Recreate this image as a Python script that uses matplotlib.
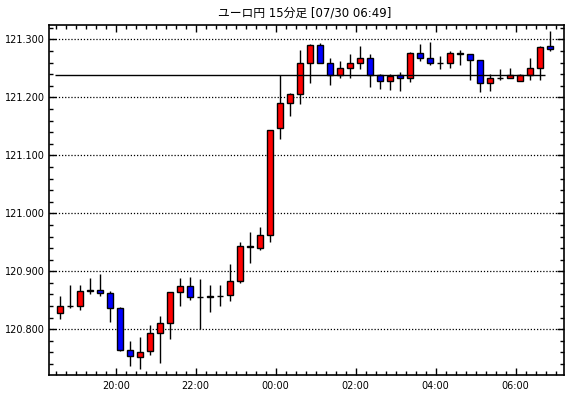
import numpy as np
import matplotlib
matplotlib.use("Agg")
import matplotlib.pyplot as plt
from matplotlib.ticker import MultipleLocator, FixedLocator

plt.rcParams['font.family'] = ['DejaVu Sans', 'Noto Sans CJK JP']

# 15-minute candles, 18:30 -> 06:45
opens = [120.828, 120.840, 120.841, 120.867, 120.867, 120.862, 120.836, 120.764, 120.753, 120.762,
         120.793, 120.810, 120.864, 120.874, 120.855, 120.856, 120.857, 120.859, 120.883, 120.942,
         120.941, 120.962, 121.147, 121.190, 121.205, 121.259, 121.291, 121.259, 121.238, 121.250,
         121.260, 121.267, 121.239, 121.228, 121.238, 121.234, 121.276, 121.267, 121.260, 121.260,
         121.277, 121.274, 121.264, 121.224, 121.234, 121.234, 121.228, 121.238, 121.250, 121.288]
closes = [120.841, 120.841, 120.866, 120.866, 120.862, 120.836, 120.764, 120.754, 120.761, 120.793,
          120.810, 120.864, 120.874, 120.855, 120.855, 120.857, 120.857, 120.883, 120.943, 120.943,
          120.962, 121.143, 121.190, 121.205, 121.259, 121.291, 121.259, 121.238, 121.250, 121.259,
          121.267, 121.238, 121.228, 121.236, 121.234, 121.276, 121.267, 121.260, 121.260, 121.277,
          121.274, 121.264, 121.224, 121.234, 121.234, 121.238, 121.238, 121.250, 121.286, 121.284]
highs = [120.857, 120.876, 120.876, 120.888, 120.895, 120.866, 120.838, 120.779, 120.787, 120.807,
         120.823, 120.865, 120.888, 120.891, 120.887, 120.876, 120.876, 120.913, 120.951, 120.968,
         120.976, 121.143, 121.238, 121.208, 121.282, 121.292, 121.293, 121.268, 121.263, 121.275,
         121.288, 121.275, 121.241, 121.240, 121.243, 121.278, 121.292, 121.295, 121.272, 121.279,
         121.281, 121.274, 121.264, 121.240, 121.248, 121.250, 121.240, 121.268, 121.288, 121.314]
lows = [120.817, 120.837, 120.834, 120.860, 120.858, 120.813, 120.763, 120.736, 120.732, 120.755,
        120.742, 120.784, 120.841, 120.850, 120.800, 120.830, 120.841, 120.848, 120.879, 120.915,
        120.937, 120.951, 121.128, 121.168, 121.188, 121.224, 121.259, 121.222, 121.234, 121.234,
        121.248, 121.218, 121.215, 121.213, 121.211, 121.227, 121.262, 121.255, 121.248, 121.250,
        121.255, 121.229, 121.210, 121.211, 121.229, 121.234, 121.228, 121.229, 121.230, 121.279]
ref_price = 121.238

hour_labels = ["20:00", "22:00", "00:00", "02:00", "04:00", "06:00"]
hour_pos = [5.54, 13.54, 21.54, 29.54, 37.54, 45.54]

x = np.arange(len(opens))
o = np.array(opens)
c = np.array(closes)
colors = np.where(c >= o, "#ff0000", "#0000ff")

fig = plt.figure(figsize=(5.7, 3.98), dpi=100)
ax = fig.add_axes([0.086, 0.0578, 0.9035, 0.8794])

for yv in [120.8, 120.9, 121.0, 121.1, 121.2, 121.3]:
    ax.axhline(yv, color="black", lw=0.9, ls=(0, (1, 1.5)), zorder=1)

ax.vlines(x, lows, highs, color="black", lw=1.0, zorder=2)
ax.bar(x, np.abs(c - o), bottom=np.minimum(o, c), width=0.6,
       color=colors, edgecolor="black", linewidth=1.0, zorder=3)
ax.hlines(ref_price, -0.53, 48.47, color="black", lw=1.0, zorder=4)

ax.set_xlim(-1.13, 50.37)
ax.set_ylim(120.7212, 121.3247)

ax.yaxis.set_major_locator(FixedLocator([120.8, 120.9, 121.0, 121.1, 121.2, 121.3]))
ax.yaxis.set_minor_locator(MultipleLocator(0.02))
ax.set_yticklabels(["120.800", "120.900", "121.000", "121.100", "121.200", "121.300"])
ax.set_xticks(hour_pos)
ax.set_xticklabels(hour_labels)
ax.xaxis.set_minor_locator(FixedLocator(np.arange(-0.46, 50.5, 1.0)))

ax.tick_params(which="both", direction="in", top=True, right=True, labelsize=7, pad=4)
ax.tick_params(axis="y", pad=3)
ax.tick_params(which="major", length=5, width=1)
ax.tick_params(which="minor", length=3, width=1)
for s in ax.spines.values():
    s.set_linewidth(1.2)

fig.text(0.535, 0.968, "ユーロ円 15分足 [07/30 06:49]", ha="center", va="center", fontsize=8.5)

fig.savefig("out.png", dpi=100)
